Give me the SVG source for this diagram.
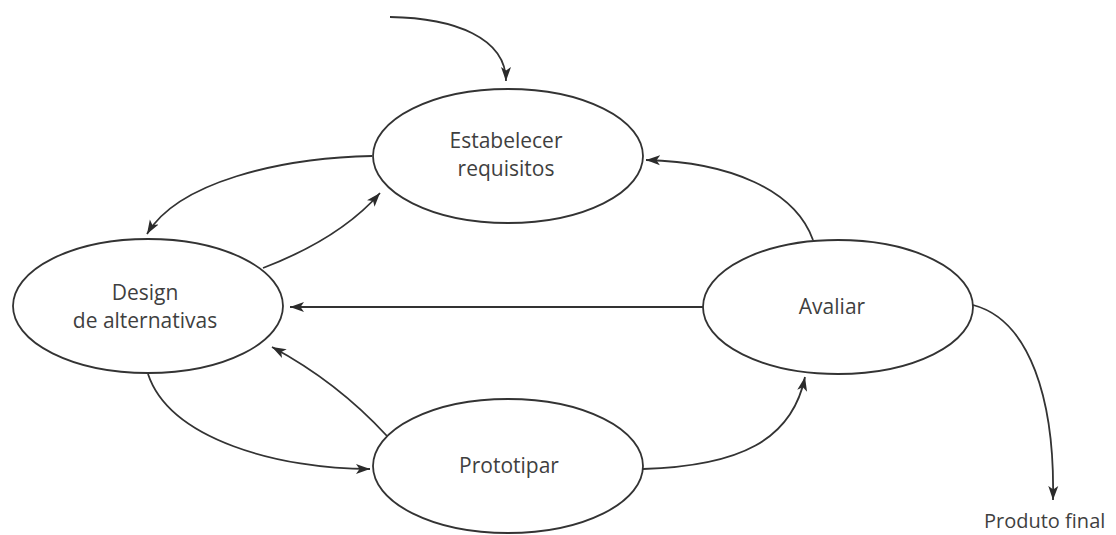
<svg xmlns="http://www.w3.org/2000/svg" width="1116" height="535" viewBox="0 0 1116 535">
  <defs>
    <marker id="arrow" markerWidth="15" markerHeight="11" refX="14" refY="5.5" orient="auto" markerUnits="userSpaceOnUse">
      <path d="M0,0.5 L14,5.5 L0,10.5 L3.5,5.5 Z" fill="#2b2b2b"/>
    </marker>
    <style>
      .node ellipse { fill: #ffffff; stroke: #333333; stroke-width: 1.8; }
      .node text { font-family: "Open Sans", "Noto Sans", sans-serif; font-size: 21px; fill: #3f3f3f; text-anchor: middle; }
      .edge { fill: none; stroke: #333333; stroke-width: 1.8; }
      .edge.arrow { marker-end: url(#arrow); }
      .label { font-family: "Open Sans", "Noto Sans", sans-serif; font-size: 20px; fill: #3f3f3f; }
    </style>
  </defs>
  <rect width="1116" height="535" fill="#ffffff"/>

  <!-- connectors -->
  <g id="connectors">
    <path class="edge arrow" d="M390,17 C455,18 506,38 506,81"/>
    <path class="edge arrow" d="M372,156 C280,158 178,182 147,234"/>
    <path class="edge arrow" d="M263,268 C310,250 352,225 380,193"/>
    <path class="edge arrow" d="M703,307 L290,307"/>
    <path class="edge arrow" d="M387,436 C352,398 315,370 272,347"/>
    <path class="edge arrow" d="M148,374 C170,440 280,469 370,469"/>
    <path class="edge arrow" d="M643,469 C740,466 792,440 805,377"/>
    <path class="edge arrow" d="M813,240 C795,190 730,162 646,160"/>
    <path class="edge arrow" d="M973,305 C1030,320 1055,400 1053,500"/>
  </g>

  <!-- process nodes -->
  <g id="estabelecer" class="node">
    <ellipse cx="508" cy="156" rx="135" ry="67"/>
    <text x="506" y="148">Estabelecer</text>
    <text x="506" y="176">requisitos</text>
  </g>
  <g id="design" class="node">
    <ellipse cx="148" cy="306" rx="135" ry="67"/>
    <text x="145" y="300">Design</text>
    <text x="145" y="328">de alternativas</text>
  </g>
  <g id="avaliar" class="node">
    <ellipse cx="838" cy="307" rx="135" ry="67"/>
    <text x="832" y="314">Avaliar</text>
  </g>
  <g id="prototipar" class="node">
    <ellipse cx="508" cy="466" rx="135" ry="67"/>
    <text x="509" y="473">Prototipar</text>
  </g>

  <!-- output label -->
  <g id="produto-final">
    <text class="label" x="984" y="528">Produto final</text>
  </g>
</svg>
